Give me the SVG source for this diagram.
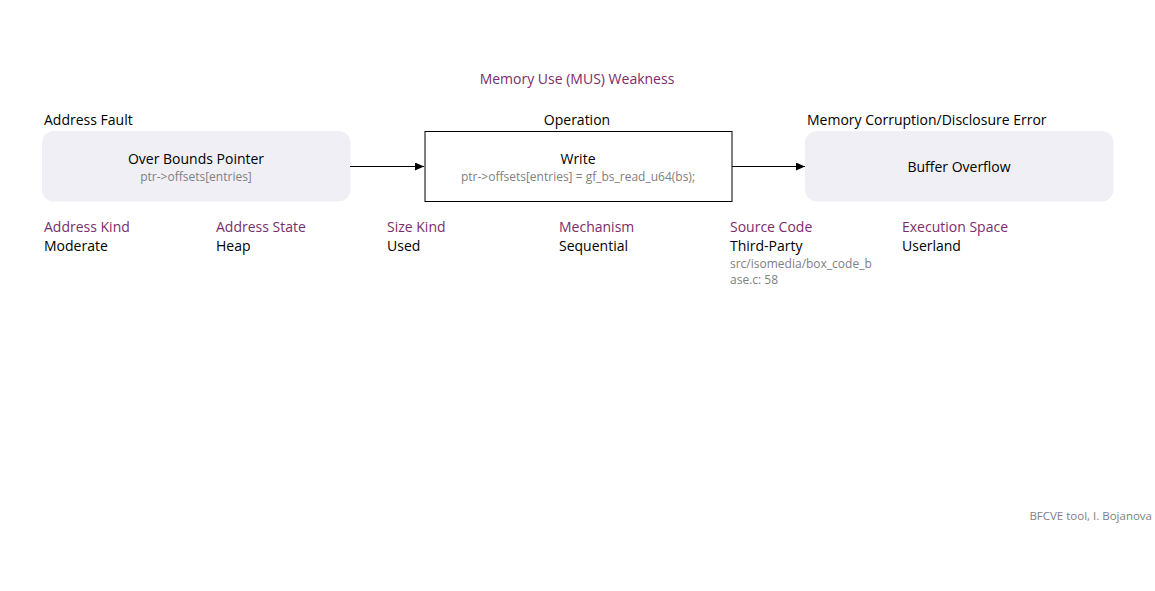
<svg xmlns="http://www.w3.org/2000/svg" width="1155" height="591" viewBox="0 0 1155 591">
<style>
text{font-family:"Open Sans","Noto Sans","Liberation Sans",sans-serif}
.t{font-size:14px;fill:#7b2d6b}
.h{font-size:14px;fill:#000}
.n{font-size:14px;fill:#000}
.s{font-size:12px;fill:#808080}
.r{fill:#f0eff5;stroke:none}
.c{stroke:#000;stroke-width:1;fill:none}
</style>
<defs>
<marker id="a" markerWidth="10" markerHeight="8" refX="9" refY="4" orient="auto" markerUnits="userSpaceOnUse">
<path d="M0,0 L9,4 L0,8 z" fill="#000"/>
</marker>
</defs>
<rect width="1155" height="591" fill="#fff"/>
<text class="t" x="577" y="84" text-anchor="middle">Memory Use (MUS) Weakness</text>
<g id="node-cause">
<text class="h" x="44" y="125">Address Fault</text>
<rect class="r" x="42" y="131" width="308.5" height="70.5" rx="12"/>
<text class="n" x="196" y="164" text-anchor="middle">Over Bounds Pointer</text>
<text class="s" x="196" y="181" text-anchor="middle">ptr-&gt;offsets[entries]</text>
</g>
<g id="node-operation">
<text class="h" x="577" y="125" text-anchor="middle">Operation</text>
<rect x="425" y="131.5" width="307" height="70" fill="#fff" stroke="#000"/>
<text class="n" x="578" y="164" text-anchor="middle">Write</text>
<text class="s" x="578" y="181" text-anchor="middle">ptr-&gt;offsets[entries] = gf_bs_read_u64(bs);</text>
</g>
<g id="node-consequence">
<text class="h" x="807" y="125">Memory Corruption/Disclosure Error</text>
<rect class="r" x="805" y="131" width="308.5" height="70.5" rx="12"/>
<text class="n" x="959" y="172" text-anchor="middle">Buffer Overflow</text>
</g>
<g id="connectors">
<line class="c" x1="350" y1="166.5" x2="424" y2="166.5" marker-end="url(#a)"/>
<line class="c" x1="732" y1="166.5" x2="805" y2="166.5" marker-end="url(#a)"/>
</g>
<g id="attributes">
<text class="t" x="44" y="231.5">Address Kind</text>
<text class="n" x="44" y="250.5">Moderate</text>
<text class="t" x="216" y="231.5">Address State</text>
<text class="n" x="216" y="250.5">Heap</text>
<text class="t" x="387" y="231.5">Size Kind</text>
<text class="n" x="387" y="250.5">Used</text>
<text class="t" x="559" y="231.5">Mechanism</text>
<text class="n" x="559" y="250.5">Sequential</text>
<text class="t" x="730" y="231.5">Source Code</text>
<text class="n" x="730" y="250.5">Third-Party</text>
<text class="s" x="730" y="267.5">src/isomedia/box_code_b</text>
<text class="s" x="730" y="283.5">ase.c: 58</text>
<text class="t" x="902" y="231.5">Execution Space</text>
<text class="n" x="902" y="250.5">Userland</text>
</g>
<text class="s" x="1152" y="519.5" text-anchor="end" style="font-size:11.5px">BFCVE tool, I. Bojanova</text>
</svg>
